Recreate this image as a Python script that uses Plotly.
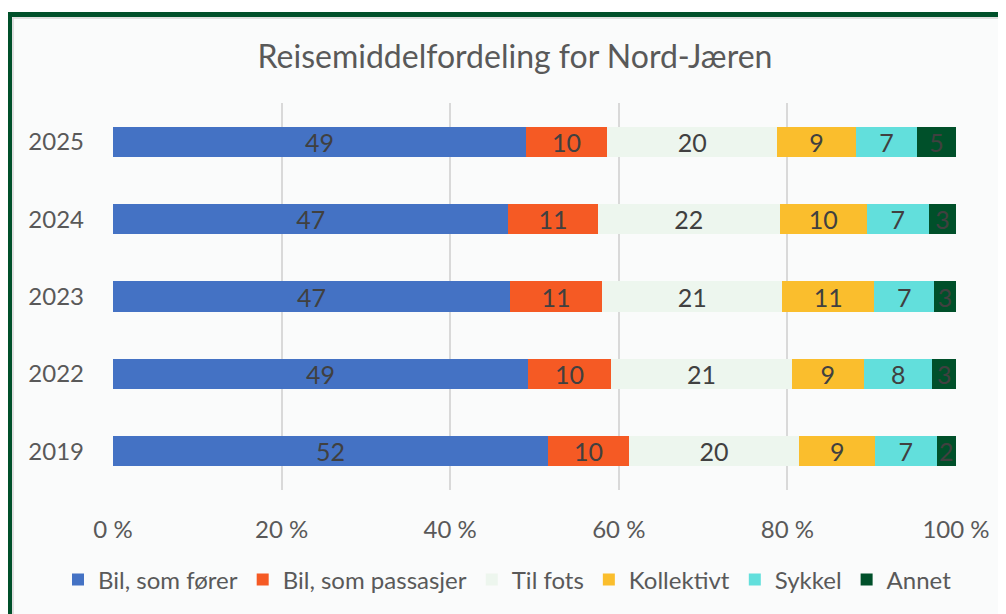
import plotly.graph_objects as go

years = ["2019", "2022", "2023", "2024", "2025"]
series_names = ["Bil, som fører", "Bil, som passasjer", "Til fots", "Kollektivt", "Sykkel", "Annet"]
bil_forer = [51.6, 49.2, 47.1, 46.9, 49.0]
bil_passasjer = [9.6, 9.9, 10.9, 10.6, 9.6]
til_fots = [20.2, 21.4, 21.4, 21.6, 20.2]
kollektivt = [9.0, 8.6, 10.9, 10.3, 9.3]
sykkel = [7.3, 8.1, 7.1, 7.4, 7.3]
annet = [2.3, 2.8, 2.6, 3.2, 4.6]
x_ticks = [0, 20, 40, 60, 80, 100]
x_tick_labels = ["0 %", "20 %", "40 %", "60 %", "80 %", "100 %"]

colors = ["#4472C4", "#F55A24", "#EDF6EE", "#FABE2D", "#62DFDC", "#00502A"]
values = [bil_forer, bil_passasjer, til_fots, kollektivt, sykkel, annet]

# page body has an 8px margin, so the figure is sized to fill the rest
W, H = 998, 606
L, R, T, B = 105, 50, 95, 124
PW, PH = W - L - R, H - T - B

def px(x):
    return (x - L) / PW

def py(y):
    return 1 - (y - T) / PH

FONT = "Lato"
TXT = "#595959"

fig = go.Figure()
for name, vals, col in zip(series_names, values, colors):
    fig.add_trace(go.Bar(
        y=years, x=vals, name=name, orientation="h",
        marker=dict(color=col, line=dict(width=0)),
        texttemplate="%{x:.0f}", textposition="inside", insidetextanchor="middle",
        textangle=0, textfont=dict(family=FONT, size=25, color="#404040"),
        hoverinfo="skip",
    ))

shapes = [
    dict(type="rect", xref="paper", yref="paper", x0=px(4), x1=px(1100), y0=py(9), y1=py(700),
         fillcolor="#FAFBFB", line=dict(width=0), layer="below"),
    dict(type="rect", xref="paper", yref="paper", x0=px(5), x1=px(1100), y0=py(10), y1=py(700),
         fillcolor="rgba(0,0,0,0)", line=dict(width=1.5, color="#D6D6D6"), layer="below"),
    dict(type="rect", xref="paper", yref="paper", x0=px(1.5), x1=px(1100), y0=py(6.5), y1=py(700),
         fillcolor="rgba(0,0,0,0)", line=dict(width=5, color="#00502A"), layer="above"),
]

fig.update_layout(
    width=W, height=H,
    margin=dict(l=L, r=R, t=T, b=B, autoexpand=False),
    barmode="stack", bargap=0.61,
    paper_bgcolor="#FFFFFF", plot_bgcolor="rgba(0,0,0,0)",
    title=dict(text="Reisemiddelfordeling for Nord-Jæren", xref="container", x=507 / W,
               xanchor="center", y=1 - 49 / H, yanchor="middle",
               font=dict(family=FONT, size=32, color=TXT)),
    xaxis=dict(range=[0, 100], tickvals=x_ticks, ticktext=x_tick_labels,
               showgrid=True, gridcolor="#D9D9D9", gridwidth=1.5, zeroline=False,
               showline=False, ticks="", ticklabelstandoff=23,
               tickfont=dict(family=FONT, size=24, color=TXT), fixedrange=True),
    yaxis=dict(categoryorder="array", categoryarray=years, showgrid=False, zeroline=False,
               showline=False, ticks="", ticklabelstandoff=28,
               tickfont=dict(family=FONT, size=24, color=TXT), fixedrange=True),
    legend=dict(orientation="h", x=px(50), xanchor="left", y=py(572), yanchor="middle",
                font=dict(family=FONT, size=24, color=TXT), traceorder="normal",
                bgcolor="rgba(0,0,0,0)", itemclick=False, itemdoubleclick=False),
    uniformtext=dict(minsize=25, mode="show"),
    shapes=shapes,
    showlegend=True,
)

fig.write_html("out.html")
